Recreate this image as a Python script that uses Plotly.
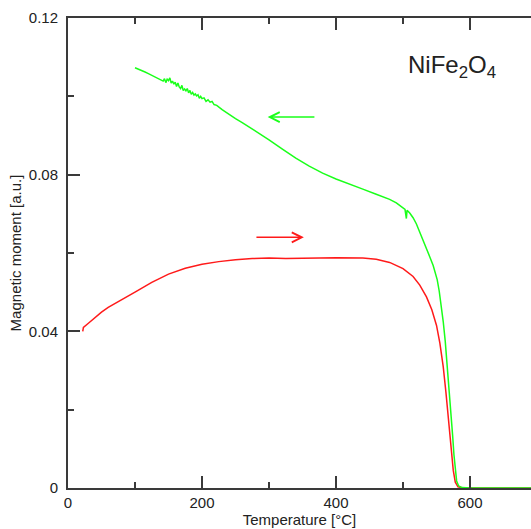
import plotly.graph_objects as go

# Heating curve (red)
heat_T = [22, 23, 30, 40, 50, 60, 78, 100, 125, 150, 175, 200, 225, 250, 275, 300, 325, 350,
          375, 400, 420, 440, 460, 480, 500, 515, 525, 535, 543, 550, 555, 560, 564, 567, 569,
          572, 575, 578, 582, 590, 640, 700]
heat_M = [0.0400, 0.0410, 0.0420, 0.0435, 0.0449, 0.0461, 0.0478, 0.0500, 0.0525, 0.0546,
          0.0561, 0.0571, 0.0578, 0.0583, 0.0586, 0.0587, 0.0586, 0.0586, 0.0587, 0.0588,
          0.0588, 0.0587, 0.0584, 0.0576, 0.0560, 0.0540, 0.0518, 0.0488, 0.0455, 0.0415,
          0.0370, 0.0310, 0.0245, 0.0190, 0.0150, 0.0095, 0.0045, 0.0015, 0.0003, 0.0, 0.0, 0.0]

# Cooling curve (green)
cool_T = [100, 105, 110, 115, 120, 125, 130, 135, 140, 142, 144, 146, 148, 150, 152, 154, 156,
          158, 160, 162, 164, 166, 168, 170, 172, 174, 176, 178, 180, 182, 184, 186, 188, 190,
          192, 194, 196, 198, 200, 203, 206, 209, 212, 215, 218, 222, 230, 240, 250, 260, 270,
          280, 300, 320, 340, 360, 380, 400, 420, 440, 460, 480, 490, 500, 503, 505, 506, 510,
          515, 520, 525, 530, 535, 540, 545, 548, 551, 554, 557, 560, 563, 566, 569, 572, 574,
          576, 578, 580, 583, 588, 600, 640, 700]
cool_M = [0.1073, 0.1070, 0.1066, 0.1062, 0.1058, 0.1054, 0.1050, 0.1046, 0.1041, 0.1039,
          0.1045, 0.1035, 0.1044, 0.1040, 0.1047, 0.1034, 0.1039, 0.1031, 0.1036, 0.1025,
          0.1034, 0.1024, 0.1020, 0.1028, 0.1015, 0.1019, 0.1014, 0.1020, 0.1009, 0.1015,
          0.1005, 0.1010, 0.1003, 0.1006, 0.1001, 0.1004, 0.0995, 0.1000, 0.0994, 0.0996,
          0.0987, 0.0991, 0.0985, 0.0987, 0.0979, 0.0977, 0.0966, 0.0954, 0.0943, 0.0933,
          0.0922, 0.0912, 0.0889, 0.0865, 0.0842, 0.0822, 0.0804, 0.0789, 0.0775, 0.0763,
          0.0750, 0.0737, 0.0728, 0.0716, 0.0711, 0.0688, 0.0709, 0.0702, 0.0690, 0.0674,
          0.0654, 0.0633, 0.0612, 0.0590, 0.0568, 0.0552, 0.0532, 0.0503, 0.0467, 0.0425,
          0.0375, 0.0315, 0.0250, 0.0180, 0.0135, 0.0085, 0.0045, 0.0018, 0.0005, 0.0001,
          0.0, 0.0, 0.0]

y_ticks = [0, 0.04, 0.08, 0.12]
y_labels = ["0", "0.04", "0.08", "0.12"]
x_ticks = [0, 200, 400, 600]
x_labels = ["0", "200", "400", "600"]

axis_color = "#3a3a3a"
font_family = "Liberation Sans, Arial, sans-serif"

fig = go.Figure()
fig.add_trace(go.Scatter(x=heat_T, y=heat_M, mode="lines",
                         line=dict(color="#ff1a1a", width=1.5), showlegend=False))
fig.add_trace(go.Scatter(x=cool_T, y=cool_M, mode="lines",
                         line=dict(color="#1aff1a", width=1.5), showlegend=False))

# direction arrows
fig.add_annotation(x=298, y=0.0947, ax=370, ay=0.0947, xref="x", yref="y", axref="x", ayref="y",
                   text="", showarrow=True, arrowhead=5, arrowsize=1.3, arrowwidth=1.5,
                   arrowcolor="#1aff1a")
fig.add_annotation(x=352, y=0.064, ax=279, ay=0.064, xref="x", yref="y", axref="x", ayref="y",
                   text="", showarrow=True, arrowhead=5, arrowsize=1.3, arrowwidth=1.5,
                   arrowcolor="#ff1a1a")
fig.add_annotation(x=573, y=0.1075, xref="x", yref="y", text="NiFe<sub>2</sub>O<sub>4</sub>",
                   showarrow=False, font=dict(size=24, color="#222", family=font_family))

fig.update_layout(
    width=531, height=529,
    margin=dict(l=68, r=0, t=18, b=41),
    plot_bgcolor="white", paper_bgcolor="white",
    font=dict(family=font_family, size=15, color="#222"),
    xaxis=dict(range=[0, 691], tickvals=x_ticks, ticktext=x_labels,
               ticks="inside", ticklen=12, tickwidth=1.5, tickcolor=axis_color,
               minor=dict(dtick=100, ticks="inside", ticklen=6, tickwidth=1.5, tickcolor=axis_color),
               showline=True, linecolor=axis_color, linewidth=2, mirror="ticks",
               showgrid=False, zeroline=False,
               title=dict(text="Temperature [°C]", font=dict(size=15), standoff=2)),
    yaxis=dict(range=[0, 0.12], tickvals=y_ticks, ticktext=y_labels,
               ticks="inside", ticklen=12, tickwidth=1.5, tickcolor=axis_color,
               minor=dict(dtick=0.02, ticks="inside", ticklen=6, tickwidth=1.5, tickcolor=axis_color),
               showline=True, linecolor=axis_color, linewidth=2, mirror=False,
               showgrid=False, zeroline=False, ticklabelstandoff=5,
               title=dict(text="Magnetic moment [a.u.]", font=dict(size=15), standoff=4)),
    yaxis2=dict(range=[0, 0.12], overlaying="y", side="right", anchor="x",
                tickvals=[0.04, 0.08], ticks="inside", ticklen=6, tickwidth=1.5,
                tickcolor=axis_color, showticklabels=False, showline=False,
                showgrid=False, zeroline=False),
)

fig.write_html("out.html", config={"displayModeBar": False},
               post_script="document.body.style.margin='0';")
